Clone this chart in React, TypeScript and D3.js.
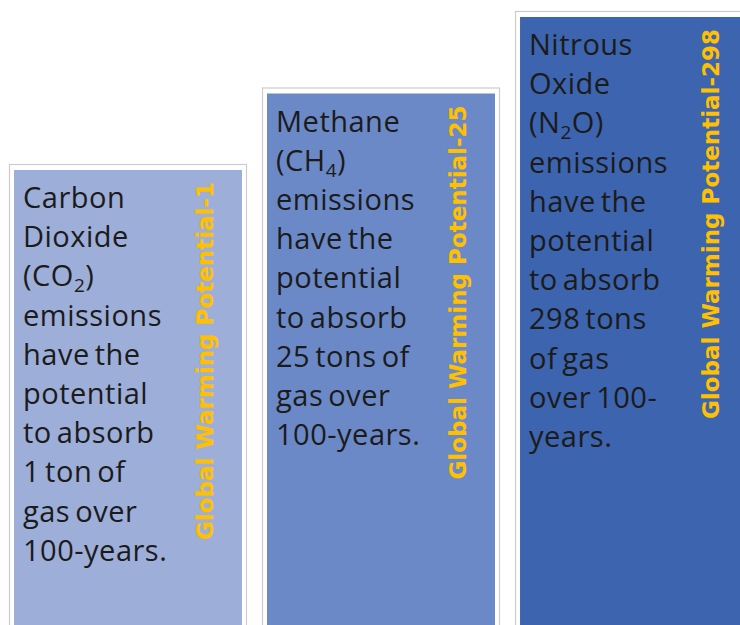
import * as d3 from 'd3'

// gases, in order of warming potential
const gases = ['CO2', 'CH4', 'N2O']
const gwp = [1, 25, 298]
const colors = ['#9daed8', '#6b89c7', '#3d64ae']

// text lines per box, "_" marks a subscript digit
const descriptions = [
  ['Carbon', 'Dioxide', '(CO_2)', 'emissions', 'have the', 'potential', 'to absorb', '1 ton of', 'gas over', '100-years.'],
  ['Methane', '(CH_4)', 'emissions', 'have the', 'potential', 'to absorb', '25 tons of', 'gas over', '100-years.'],
  ['Nitrous', 'Oxide', '(N_2O)', 'emissions', 'have the', 'potential', 'to absorb', '298 tons', 'of gas', 'over 100-', 'years.'],
]

const width = 740
const height = 625

function Line({ text, x, y }: { text: string; x: number; y: number }) {
  const parts = text.split('_')
  if (parts.length === 1) return <text x={x} y={y}>{text}</text>
  const sub = parts[1][0]
  const rest = parts[1].slice(1)
  return (
    <text x={x} y={y}>
      {parts[0]}
      <tspan dy={6} fontSize={19}>{sub}</tspan>
      <tspan dy={-6}>{rest}</tspan>
    </text>
  )
}

export default function App() {
  const x = d3.scaleBand<string>()
    .domain(gases)
    .range([14, 748])
    .paddingInner(0.099)
    .paddingOuter(0)

  // stepped tops, one level per gas
  const y = d3.scalePoint<string>()
    .domain(gases)
    .range([170, 17])

  const bw = x.bandwidth()
  const lineH = 39.2

  return (
    <svg
      width={width}
      height={height}
      style={{ position: 'absolute', left: 0, top: 0, background: '#fff' }}
    >
      {gases.map((g, i) => {
        const x0 = x(g)!
        const y0 = y(g)!
        return (
          <g key={g}>
            <rect
              x={x0 - 4.5}
              y={y0 - 5.5}
              width={bw + 9}
              height={height - y0 + 20}
              fill="#fff"
              stroke="#cccccc"
              strokeWidth={1.2}
            />
            <rect x={x0} y={y0} width={bw} height={height - y0 + 10} fill={colors[i]} />
            <g
              fontFamily="'Open Sans', sans-serif"
              fontSize={29}
              fill="#1b1b1b"
              letterSpacing={0.5}
              wordSpacing={-3}
            >
              {descriptions[i].map((t, j) => (
                <Line key={j} text={t} x={x0 + 9} y={y0 + 38 + j * lineH} />
              ))}
            </g>
            <text
              transform={`translate(${x0 + bw - 29},${y0 + 12}) rotate(-90)`}
              textAnchor="end"
              fontFamily="'DejaVu Sans', sans-serif"
              fontWeight="bold"
              fontSize={23}
              fill="#ffc000"
            >
              {`Global Warming Potential-${gwp[i]}`}
            </text>
          </g>
        )
      })}
    </svg>
  )
}
